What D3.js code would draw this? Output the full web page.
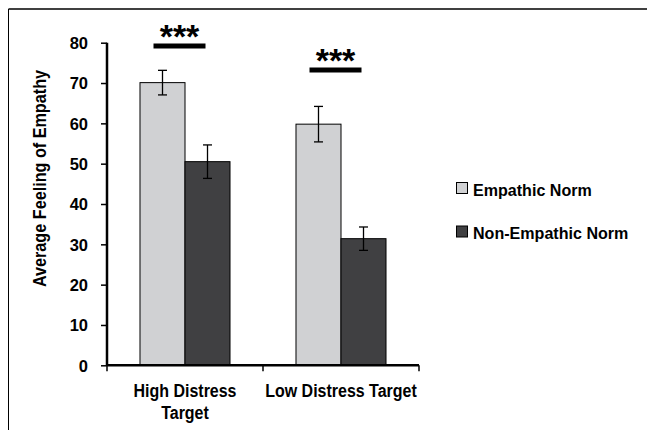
<!DOCTYPE html>
<html><head><meta charset="utf-8">
<script src="https://cdn.jsdelivr.net/npm/d3@7"></script>
<style>
body{margin:0;background:#fff;}
text{font-family:"Liberation Sans",Arial,sans-serif;font-weight:bold;fill:#000;}
</style></head>
<body><svg id="c" width="647" height="430"></svg>
<script>
const categories = ["High Distress Target", "Low Distress Target"];
const categoryLines = [["High Distress", "Target"], ["Low Distress Target"]];
const series = ["Empathic Norm", "Non-Empathic Norm"];
const empathicValues = [70.1, 59.8];
const nonEmpathicValues = [50.5, 31.4];
const empathicErrors = [3.05, 4.4];
const nonEmpathicErrors = [4.15, 2.9];
const yTicks = [0, 10, 20, 30, 40, 50, 60, 70, 80];
const sigLabels = ["***", "***"];
const sigLevels = [79.2, 73.2];

const colors = ["#d0d1d3", "#404042"];
const svg = d3.select("#c");

// frame (top and left)
svg.append("line").attr("x1",8.5).attr("x2",647).attr("y1",9).attr("y2",9).attr("stroke","#000").attr("stroke-width",1.5);
svg.append("line").attr("x1",8.5).attr("x2",8.5).attr("y1",9).attr("y2",430).attr("stroke","#000").attr("stroke-width",1);

const x0 = 107, x1 = 419, yTop = 42.7, yBot = 365.3;
const x = d3.scaleBand().domain(categories).range([x0, x1]).paddingInner(0.423).paddingOuter(0.2115);
const xs = d3.scaleBand().domain(series).range([0, x.bandwidth()]);
const y = d3.scaleLinear().domain([0, 80]).range([yBot, yTop]);

const data = categories.map((c, i) => ({
  cat: c,
  vals: [
    {s: series[0], v: empathicValues[i], e: empathicErrors[i]},
    {s: series[1], v: nonEmpathicValues[i], e: nonEmpathicErrors[i]}
  ]
}));

const g = svg.append("g");
const grp = g.selectAll(".grp").data(data).join("g").attr("transform", d => `translate(${x(d.cat)},0)`);
grp.selectAll("rect").data(d => d.vals).join("rect")
  .attr("x", d => xs(d.s)).attr("width", xs.bandwidth())
  .attr("y", d => y(d.v)).attr("height", d => y(0) - y(d.v))
  .attr("fill", (d, i) => colors[i]).attr("stroke", "#000").attr("stroke-width", 1);

// error bars
const eb = grp.selectAll(".eb").data(d => d.vals).join("g").attr("class","eb")
  .attr("transform", d => `translate(${xs(d.s) + xs.bandwidth()/2},0)`);
eb.append("line").attr("y1", d => y(d.v + d.e)).attr("y2", d => y(d.v - d.e)).attr("stroke","#000").attr("stroke-width",1.3);
eb.append("line").attr("x1",-4.5).attr("x2",4.5).attr("y1", d => y(d.v + d.e)).attr("y2", d => y(d.v + d.e)).attr("stroke","#000").attr("stroke-width",1.3);
eb.append("line").attr("x1",-4.5).attr("x2",4.5).attr("y1", d => y(d.v - d.e)).attr("y2", d => y(d.v - d.e)).attr("stroke","#000").attr("stroke-width",1.3);

// y axis
const yAxis = g.append("g").attr("transform", `translate(${x0},0)`)
  .call(d3.axisLeft(y).tickValues(yTicks).tickSize(6).tickPadding(13));
yAxis.select(".domain").attr("stroke","#000").attr("stroke-width",2.5).attr("d", `M0,${yTop}V${yBot}`);
yAxis.selectAll(".tick line").attr("stroke","#000").attr("stroke-width",1.5);
yAxis.selectAll(".tick text").attr("font-size",16.5).attr("font-family",null).attr("fill","#000").attr("dy","0.36em");

// x axis
g.append("line").attr("x1", x0).attr("x2", x1).attr("y1", yBot).attr("y2", yBot).attr("stroke","#000").attr("stroke-width",2.5);
const bounds = [x0].concat(categories.map(c => x(c) + x.bandwidth() + x.step()*x.paddingInner()/2));
bounds[bounds.length-1] = x1;
g.selectAll(".xt").data(bounds).join("line").attr("x1", d => d).attr("x2", d => d)
  .attr("y1", yBot).attr("y2", yBot + 6).attr("stroke","#000").attr("stroke-width",1.5);
const xl = g.selectAll(".xl").data(categories).join("text")
  .attr("text-anchor","middle").attr("font-size",18.6)
  .attr("transform", d => `translate(${x(d) + x.bandwidth()/2},397) scale(0.86,1)`);
xl.selectAll("tspan").data((d, i) => categoryLines[i]).join("tspan")
  .attr("x",0).attr("dy", (d, i) => i === 0 ? 0 : 22).text(d => d);

// y title
svg.append("text").attr("text-anchor","middle").attr("font-size",18)
  .attr("transform", `translate(45.5,178.5) rotate(-90) scale(0.9,1)`).text("Average Feeling of Empathy");

// significance
const sig = g.selectAll(".sig").data(categories).join("g")
  .attr("transform", (d, i) => `translate(${x(d) + x.bandwidth()/2 - 5.5},0)`);
sig.append("line").attr("x1",-26).attr("x2",26).attr("y1",(d,i)=>y(sigLevels[i])).attr("y2",(d,i)=>y(sigLevels[i]))
  .attr("stroke","#000").attr("stroke-width",5);
sig.append("text").attr("text-anchor","middle").attr("font-size",34)
  .attr("y",(d,i)=>y(sigLevels[i]) + 2).text((d,i)=>sigLabels[i]);

// legend
const lg = svg.append("g").attr("transform","translate(456,182)");
const li = lg.selectAll("g").data(series).join("g").attr("transform",(d,i)=>`translate(0,${i*43.5})`);
li.append("rect").attr("width",11).attr("height",11).attr("x",0.5).attr("y",0.5)
  .attr("fill",(d,i)=>colors[i]).attr("stroke","#000").attr("stroke-width",1);
li.append("text").attr("font-size",17.2).attr("transform","translate(17,13.5) scale(0.935,1)").text(d => d);
</script></body></html>
